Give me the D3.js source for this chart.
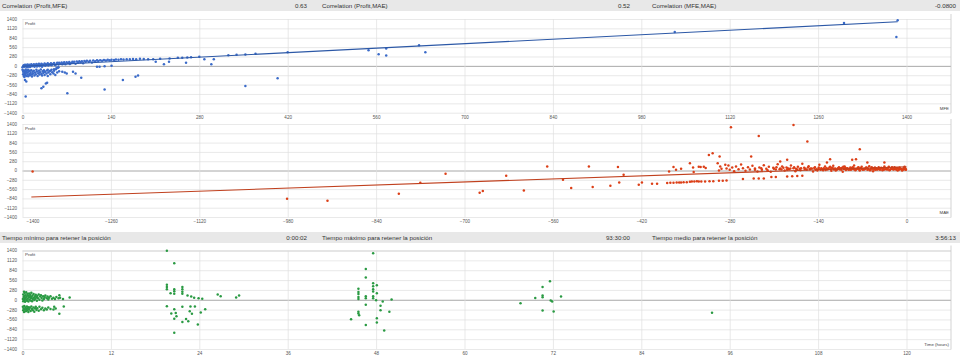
<!DOCTYPE html>
<html><head><meta charset="utf-8">
<script src="https://cdn.jsdelivr.net/npm/d3@7"></script>
<style>body{margin:0;background:#fff}svg{display:block;font-family:"Liberation Sans",Arial,sans-serif}</style>
</head><body><svg id="c" width="960" height="360"></svg>
<script>
// ---------------- DATA ----------------
const headerTop = [["Correlation (Profit,MFE)","0.63"],["Correlation (Profit,MAE)","0.52"],["Correlation (MFE,MAE)","-0.0800"]];
const headerBottom = [["Tiempo mínimo para retener la posición","0:00:02"],["Tiempo máximo para retener la posición","93:30:00"],["Tiempo medio para retener la posición","3:56:13"]];
const yTicks = [1400,1120,840,560,280,0,-280,-560,-840,-1120,-1400];
const xTicksMFE = [0,140,280,420,560,700,840,980,1120,1260,1400];
const xTicksMAE = [-1400,-1260,-1120,-980,-840,-700,-560,-420,-280,-140,0];
const xTicksTime = [0,12,24,36,48,60,72,84,96,108,120];
const yTitle = "Profit";
const xTitles = ["MFE","MAE","Time (hours)"];

// [MFE, Profit]
const profitVsMFE = [
[0,-40],[1,-20],[2,0],[2,20],[3,-30],[4,10],[4,35],[5,-10],[6,25],[7,-45],[7,5],[8,40],[9,-25],[10,15],[10,-5],[11,30],[12,-35],[13,10],[14,45],[15,-15],[16,20],[17,0],[18,50],[19,-30],[20,25],[21,5],[22,55],[23,-20],[24,30],[25,10],[26,60],[27,-10],[28,35],[29,15],[30,65],[31,-25],[32,40],[33,20],[35,70],[36,0],[37,45],[38,25],[40,75],[41,10],[42,50],[44,30],[45,80],[46,15],[48,55],[50,85],[51,35],[52,20],[54,60],[55,90],[57,40],[58,95],[60,65],[62,100],[63,45],[65,70],[66,105],[68,50],[70,110],[72,80],[74,115],[75,55],[77,85],[79,120],[80,95],[82,125],[84,65],[86,130],[88,100],[90,135],[92,110],[94,140],[96,80],[98,145],[100,120],[102,150],[105,125],[107,155],[110,100],[112,160],[115,135],[118,165],[120,145],[123,170],[126,150],[129,175],[132,160],[135,180],[138,170],[141,185],[145,175],[148,190],[152,185],[156,195],[160,190],[165,200],[170,195],[175,205],[180,200],[186,210],[192,205],
[0,-120],[1,-180],[1,-250],[2,-300],[2,-140],[3,-210],[3,-330],[4,-160],[4,-270],[5,-110],[5,-230],[6,-190],[6,-300],[7,-140],[8,-260],[8,-200],[9,-120],[9,-310],[10,-170],[11,-240],[12,-280],[12,-150],[13,-210],[14,-130],[15,-260],[15,-320],[16,-180],[17,-230],[18,-150],[19,-290],[20,-200],[21,-250],[22,-120],[23,-170],[24,-300],[25,-220],[26,-150],[27,-260],[28,-190],[29,-110],[30,-240],[31,-290],[32,-160],[33,-210],[34,-130],[35,-270],[36,-180],[38,-230],[39,-140],[40,-300],[41,-200],[43,-160],[44,-250],[46,-120],[47,-190],[49,-230],[50,-150],[52,-270],[53,-100],[55,-200],[56,-60],[58,-160],
[35,-179],[40,-120],[44,-150],[50,-100],[54,-60],[57,-40],[63,-179],[67,-197],[70,-226],[80,-179],[84,-226],[93,-357],[71,-822],[5,-915],[4,-426],[6,-465],[30,-673],[33,-626],[37,-524],[39,-506],[130,-703],[118,-30],[130,-10],[141,0],[122,-30],
[199,195],[207,198],[211,119],[218,209],[224,51],[232,119],[233,220],[246,240],[253,245],[259,89],[261,250],[267,255],[280,275],[288,200],[299,51],[303,200],[326,320],[339,328],[353,340],[369,360],[420,405],[159,-426],[179,-328],[183,-286],[353,-605],[404,-367],
[548,467],[564,349],[576,518],[576,310],[628,617],[638,408],[1033,1013],[1301,1281],[1386,1362],[1384,864]
];
const trendMFE = [[0,-10],[1386,1320]];

// [MAE, Profit]
const profitVsMAE = [
[-1384,-30],[-981,-848],[-917,-908],[-804,-698],[-770,-369],[-730,-99],[-676,-668],[-671,-618],[-634,-159],[-606,-600],[-569,120],[-544,-279],[-531,-528],[-503,120],[-497,-498],[-469,-459],[-457,102],[-455,-360],[-448,-129],[-424,-429],[-419,-359],[-403,-399],[-395,-399],
[-376,-30],[-369,102],[-365,21],[-357,51],[-343,222],[-338,90],[-337,-48],[-329,111],[-326,102],[-321,111],[-318,72],[-313,470],[-307,520],[-299,222],[-296,420],[-295,120],[-293,51],[-297,0],[-287,171],
[-278,1301],[-179,1370],[-234,1040],[-157,870],[-74,642],[-246,420],[-200,270],[-189,320],[-121,342],[-126,240],[-80,342],[-86,320],[-62,240],[-35,240],
[-379,-378],[-374,-372],[-369,-372],[-364,-365],[-360,-360],[-357,-360],[-353,-350],[-348,-350],[-343,-340],[-340,-330],[-336,-330],[-332,-320],[-329,-330],[-325,-330],[-319,-330],[-312,-320],[-306,-320],[-297,-310],[-291,-310],[-285,-300],
[-259,-258],[-242,-240],[-234,-240],[-226,-240],[-214,-198],[-207,-198],[-189,-180],[-181,-170],[-173,-165],[-165,-159],
[-285,60],[-282,150],[-280,20],[-276,90],[-273,-20],[-270,120],[-266,40],[-262,180],[-259,70],[-255,-10],[-251,100],[-248,30],[-244,140],[-240,60],[-236,-30],[-233,90],[-229,20],[-226,160],[-222,50],[-218,110],[-215,-40],[-211,80],[-207,30],[-204,190],[-200,60],[-197,120],[-193,0],[-190,90],[-186,40],[-183,150],[-179,70],[-176,-20],[-172,110],[-169,50],[-165,200],[-162,80],[-158,20],[-155,130],[-152,60],[-148,-30],[-145,100],[-142,40],[-138,170],[-135,70],[-132,10],[-129,120],[-126,50],[-122,90],[-119,-10],[-116,140],[-113,60],[-110,30],[-107,100],[-104,70],[-101,-40],[-98,120],[-95,50],[-92,20],[-89,90],[-86,60],[-83,150],[-80,30],[-77,80],[-74,0],[-71,110],[-68,50],[-65,70],[-62,20],[-59,130],[-56,60],[-53,-20],[-50,90],[-47,40],[-44,100],[-41,60],[-38,10],[-35,120],[-32,50],[-29,80],[-26,20],[-23,100],[-20,40],[-17,70],[-14,0],[-11,90],[-8,30],[-5,60],[-3,110],[-1,20],
[-125,30],[-118,80],[-112,0],[-106,40],[-100,110],[-94,70],[-88,20],[-82,60],[-76,100],[-70,40],[-64,90],[-58,10],[-52,70],[-46,30],[-40,80],[-34,40],[-28,110],[-22,60],[-16,20],[-10,50],[-4,80],[-2,40],[-7,0],[-13,60],[-19,100],[-25,50],[-31,30],[-37,70],[-43,50],[-49,20],[-55,100],[-61,60],[-67,30],[-73,70],[-79,50],[-85,100],[-91,40],[-97,80],[-103,20],[-109,60],[-115,30],[-121,110],[-127,70],[-133,40],[-139,90],[-144,20],[-150,60],[-156,90],[-161,40],[-167,70],[-173,30],[-178,100],[-184,60],[-189,20],[-195,80],[-201,40],[-206,100],
[-139,45],[-136,25],[-131,65],[-128,15],[-124,55],[-120,35],[-117,75],[-114,45],[-111,20],[-108,65],[-105,35],[-102,80],[-99,45],[-96,15],[-93,60],[-90,30],[-87,75],[-84,40],[-81,10],[-78,55],[-75,30],[-72,70],[-69,20],[-66,45],[-63,80],[-60,35],[-57,15],[-54,55],[-51,30],[-48,70],[-45,45],[-42,20],[-39,60],[-36,25],[-33,75],[-30,40],[-27,10],[-24,55],[-21,30],[-18,45],[-15,75],[-12,25],[-9,55],[-6,15],[-4,40],[-2,65],[-1,30],[-240,20],[-230,70],[-220,10],[-210,50],[-198,30],[-188,70],[-175,50],[-168,10],[-160,55],[-153,35],[-146,75],[-141,0]
];
const trendMAE = [[-1386,-797],[0,115]];

// [Time (hours), Profit]
const profitVsTime = [
[0.05,20],[0.1,150],[0.1,-40],[0.15,80],[0.2,230],[0.2,-10],[0.25,110],[0.3,40],[0.3,190],[0.35,-60],[0.4,130],[0.45,60],[0.5,0],[0.5,210],[0.55,90],[0.6,-30],[0.65,160],[0.7,30],[0.75,120],[0.8,-50],[0.85,70],[0.9,180],[0.95,10],[1.0,100],[1.05,140],[1.1,-20],[1.15,50],[1.2,200],[1.25,80],[1.3,-40],[1.35,120],[1.4,20],[1.5,160],[1.55,60],[1.6,-10],[1.7,100],[1.75,30],[1.8,140],[1.9,70],[1.95,-30],[2.0,110],[2.1,40],[2.2,150],[2.3,0],[2.4,90],[2.5,130],[2.6,50],[2.7,-20],[2.8,100],[2.9,20],[3.0,70],[3.1,120],[3.3,40],[3.4,90],[3.5,10],[3.6,60],[3.8,100],[4.0,30],[4.2,60],[4.4,20],[4.6,80],[4.9,40],[5.0,130],[5.1,60],[5.5,20],[6.4,64],
[0.05,-200],[0.1,-300],[0.15,-250],[0.2,-350],[0.25,-180],[0.3,-280],[0.4,-220],[0.45,-330],[0.5,-260],[0.6,-190],[0.65,-300],[0.7,-240],[0.8,-350],[0.85,-210],[0.9,-280],[1.0,-230],[1.1,-320],[1.2,-190],[1.3,-260],[1.4,-300],[1.5,-220],[1.6,-340],[1.7,-250],[1.8,-200],[1.9,-290],[2.0,-240],[2.2,-310],[2.3,-200],[2.5,-270],[2.7,-230],[2.9,-300],[3.1,-250],[3.3,-280],[3.5,-220],[3.8,-260],[4.2,-280],[4.5,-250],[5.0,-400],[5.6,-190],[4.3,-200],
[19.6,1390],[20.6,1038],[19.6,429],[19.6,362],[19.6,296],[20.1,188],[20.6,300],[20.6,240],[20.6,170],[21.7,360],[21.7,300],[21.7,230],[21.7,170],[19.6,-188],[20.2,-390],[20.6,-270],[20.8,-380],[20.9,-470],[20.6,-540],[21.7,-200],[21.7,-630],[20.6,-940],[22.8,-190],[23.0,-400],[22.7,-330],[23.4,-190],[22.4,120],[22.9,90],[23.3,60],[23.9,40],[24.4,25],[23.8,-700],[24.2,-360],[24.8,-267],[22.2,-550],[22.5,-610],[26.5,150],[26.9,100],[29.0,64],[29.4,122],
[47.6,1320],[46.6,875],[46.6,633],[47.6,470],[47.6,383],[47.6,296],[47.6,238],[48.1,412],[48.1,188],[45.6,313],[45.6,220],[45.6,160],[45.6,80],[45.6,23],[46.6,101],[46.6,43],[47.6,100],[47.6,43],[48.0,-14],[46.6,-139],[48.9,-52],[48.6,-168],[48.6,-296],[50.1,6],[45.6,-342],[45.6,-390],[45.7,-440],[49.8,-342],[44.6,-557],[48.1,-528],[48.1,-644],[46.6,-719],[49.1,-876],
[67.6,-101],[69.6,52],[70.6,362],[70.6,122],[70.6,72],[71.6,528],[71.7,-23],[71.9,-52],[73.1,93],[70.6,-304],[72.1,-333],
[93.6,-371]
];

// ---------------- DRAW ----------------
const svg = d3.select("#c");
const PL = 22.5, PR = 906.5, BORDER = 951;

function header(y0, h, items){
  svg.append("rect").attr("x",0).attr("y",y0).attr("width",960).attr("height",h).attr("fill","#e8e8e8");
  const lx = [2,322,652], rx = [307,630,956];
  items.forEach((d,i)=>{
    svg.append("text").attr("x",lx[i]).attr("y",y0+h/2+2.2).attr("font-size",6.2).attr("fill","#333").text(d[0]);
    svg.append("text").attr("x",rx[i]).attr("y",y0+h/2+2.2).attr("font-size",6.2).attr("fill","#333").attr("text-anchor","end").text(d[1]);
  });
}
header(0,11,headerTop);
header(232,11,headerBottom);

function panel(cfg){
  const x = d3.scaleLinear().domain(cfg.xDomain).range([PL,PR]);
  const y = d3.scaleLinear().domain([-1400,1400]).range([cfg.bottom,cfg.top]);
  const g = svg.append("g");

  const ya = g.append("g").attr("transform",`translate(${PL},0)`)
    .call(d3.axisLeft(y).tickValues(yTicks).tickSize(-(BORDER-PL)).tickPadding(5.5).tickFormat(d3.format("d")));
  ya.select(".domain").remove();
  ya.selectAll(".tick line")
    .attr("stroke",d=>d===0?"#a8a8a8":(d===1400&&cfg.darkTop?"#b4b4b4":"#e0e0e0"))
    .attr("stroke-width",d=>d===0?1:0.7);
  ya.selectAll(".tick text").attr("font-size",4.6).attr("fill","#555").attr("font-family","Liberation Sans, Arial, sans-serif");

  const xa = g.append("g").attr("transform",`translate(0,${cfg.bottom})`)
    .call(d3.axisBottom(x).tickValues(cfg.ticks).tickSize(-(cfg.bottom-cfg.top)).tickPadding(3).tickFormat(d3.format("d")));
  xa.select(".domain").remove();
  xa.selectAll(".tick line").attr("stroke","#e0e0e0").attr("stroke-width",0.7);
  xa.selectAll(".tick text").attr("font-size",4.6).attr("fill","#555").attr("font-family","Liberation Sans, Arial, sans-serif");
  if (cfg.ticks[0] < 0) xa.selectAll(".tick text").filter((d,i)=>i===0).attr("text-anchor","start").attr("x",3.5);

  g.append("line").attr("x1",BORDER).attr("x2",BORDER).attr("y1",cfg.top-5).attr("y2",cfg.bottom+0.5).attr("stroke","#c8c8c8").attr("stroke-width",0.8);

  g.append("text").attr("x",PL+2.5).attr("y",cfg.top+5.5).attr("font-size",4.4).attr("fill","#444").text(yTitle);
  g.append("text").attr("x",BORDER-2).attr("y",cfg.bottom-3).attr("font-size",4.4).attr("fill","#444").attr("text-anchor","end").text(cfg.xTitle);

  g.append("g").selectAll("circle").data(cfg.data).join("circle")
    .attr("cx",d=>x(d[0])).attr("cy",d=>y(d[1])).attr("r",1.25).attr("fill",cfg.color);

  if (cfg.trend){
    g.append("path").datum(cfg.trend).attr("fill","none").attr("stroke",cfg.lineColor).attr("stroke-width",1.1)
      .attr("d",d3.line().x(d=>x(d[0])).y(d=>y(d[1])));
  }
}

panel({xDomain:[0,1400], ticks:xTicksMFE, top:19, bottom:112.7, data:profitVsMFE, color:"#3b6bc9", trend:trendMFE, lineColor:"#2c58a6", xTitle:xTitles[0]});
panel({xDomain:[-1400,0], ticks:xTicksMAE, top:124, bottom:217, data:profitVsMAE, color:"#dc3f17", trend:trendMAE, lineColor:"#c0401e", xTitle:xTitles[1]});
panel({xDomain:[0,120], ticks:xTicksTime, top:250.5, bottom:349, data:profitVsTime, color:"#2a9a43", trend:null, xTitle:xTitles[2], darkTop:true});
</script>
</body></html>
